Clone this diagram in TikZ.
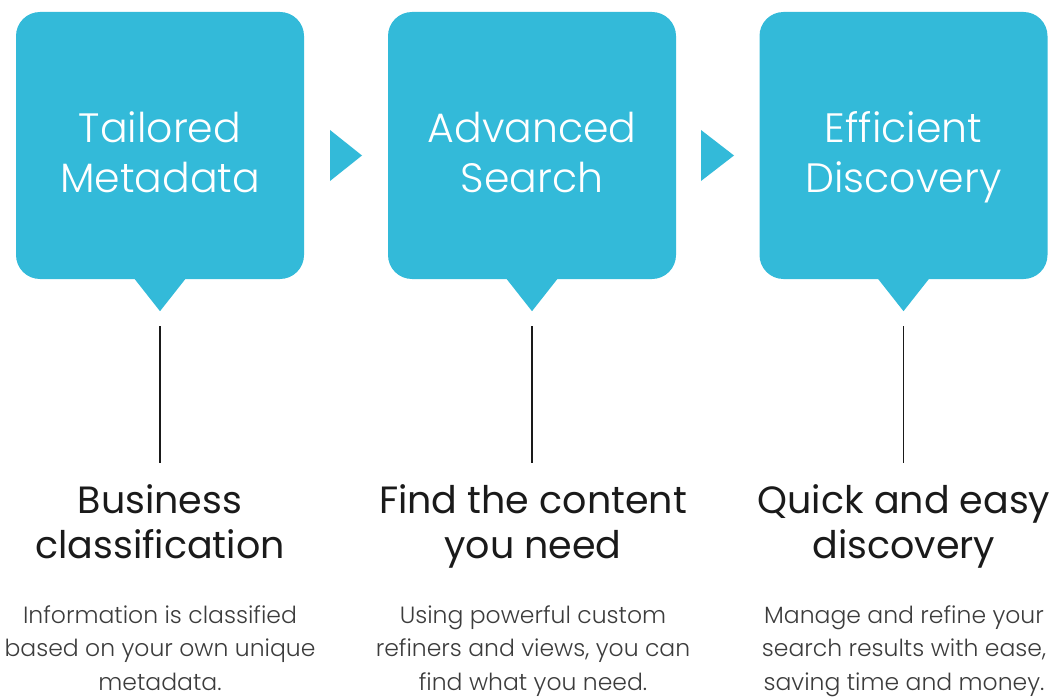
\documentclass[tikz,border=0pt]{standalone}
\usepackage{fontspec}
\setmainfont{Poppins}[UprightFont=* Light]
\newfontfamily\headfont{Poppins}
\definecolor{boxc}{RGB}{51,186,217}
\definecolor{headc}{RGB}{26,26,26}
\definecolor{bodyc}{RGB}{60,60,60}
\tikzset{
  card/.style={fill=boxc, rounded corners=24pt, minimum width=288pt, minimum height=267pt, inner sep=0pt},
  cardtxt/.style={text=white, align=center, inner sep=0pt, font=\fontsize{41}{50}\selectfont},
  headtxt/.style={align=center, text=headc, font=\headfont\fontsize{38}{45}\selectfont, inner sep=0pt},
  bodytxt/.style={align=center, text=bodyc, font=\fontsize{23.5}{33.7}\selectfont, inner sep=0pt},
  stem/.style={draw=headc, line width=1.6pt},
}
\begin{document}
\begin{tikzpicture}[x=1pt,y=-1pt]
\useasboundingbox (0,0) rectangle (1052,698);
% cards
\node[card] (b1) at (160,145.5) {};
\node[card] (b2) at (532,145.5) {};
\node[card] (b3) at (903.5,145.5) {};
\node[cardtxt, anchor=base] (c1) at (160,192) {Tailored\\Metadata};
\node[cardtxt, anchor=base] (c2) at (532,192) {Advanced\\Search};
\node[cardtxt, anchor=base] (c3) at (903.5,192) {Efficient\\Discovery};
% pointers
\foreach \b in {b1,b2,b3}{
  \fill[boxc] ([xshift=-26pt,yshift=1pt]\b.south) -- ([yshift=-32pt]\b.south) -- ([xshift=26pt,yshift=1pt]\b.south) -- cycle;
}
% arrows between cards
\fill[boxc] (330,130) -- (362,155.5) -- (330,181) -- cycle;
\fill[boxc] (701,130) -- (734,155.5) -- (701,181) -- cycle;
% stems
\foreach \b/\n in {b1/1,b2/2,b3/3}{
  \coordinate (s\n) at ([yshift=-47pt]\b.south);
  \coordinate (e\n) at ([yshift=-184pt]\b.south);
  \draw[stem] (s\n) -- (e\n);
}
% headings
\node[headtxt, anchor=base] (h1) at (160,558) {Business\\classification};
\node[headtxt, anchor=base] (h2) at (533,558) {Find the content\\you need};
\node[headtxt, anchor=base] (h3) at (904,558) {Quick and easy\\discovery};
% body
\node[bodytxt, anchor=base] (t1) at (160,690.5) {Information is classified\\based on your own unique\\metadata.};
\node[bodytxt, anchor=base] (t2) at (533,690.5) {Using powerful custom\\refiners and views, you can\\find what you need.};
\node[bodytxt, anchor=base] (t3) at (904,690.5) {Manage and refine your\\search results with ease,\\saving time and money.};
\end{tikzpicture}
\end{document}
